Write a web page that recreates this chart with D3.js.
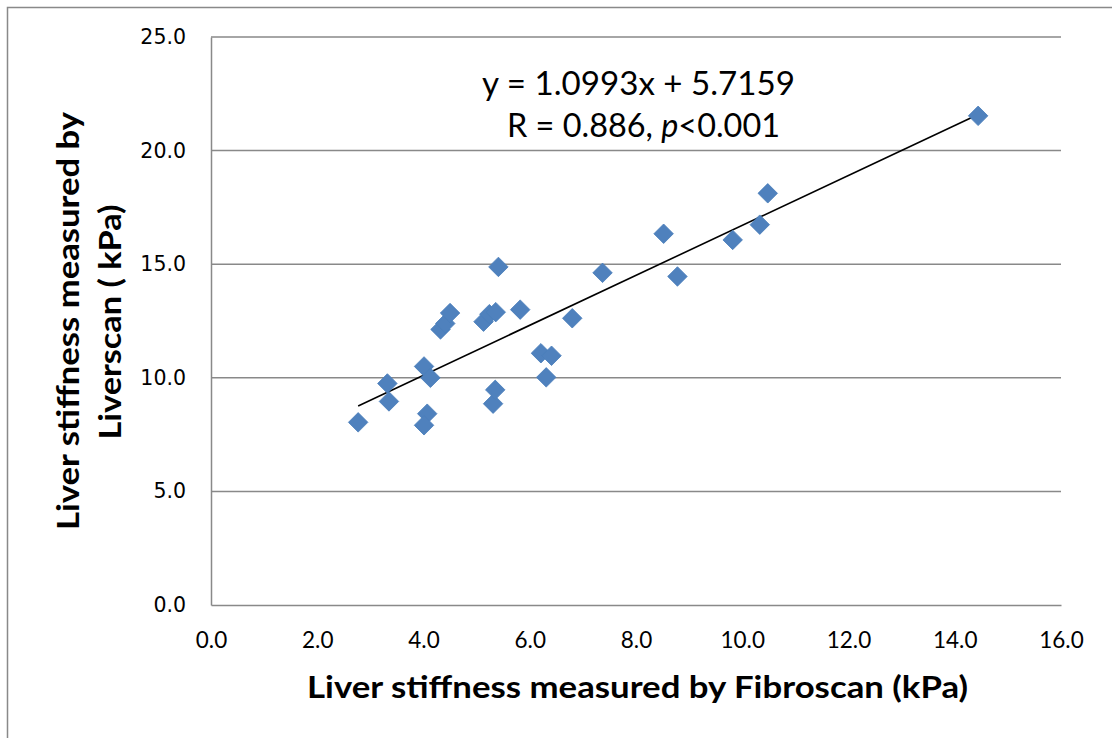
<!DOCTYPE html>
<html>
<head>
<meta charset="utf-8">
<script src="https://cdn.jsdelivr.net/npm/d3@7"></script>
<style>
  html, body { margin: 0; padding: 0; background: #fff; }
  svg { display: block; }
</style>
</head>
<body>
<svg id="chart" width="1112" height="738"></svg>
<script>
// ---- data ----
const fibroscan = [2.77, 3.32, 3.35, 4.01, 4.13, 4.07, 4.01, 4.32, 4.41, 4.50, 5.13, 5.24, 5.36, 5.41, 5.82, 5.31, 5.35, 6.21, 6.41, 6.31, 6.80, 7.37, 8.52, 8.78, 9.82, 10.33, 10.48, 14.44];
const liverscan = [8.04, 9.75, 8.96, 10.50, 10.00, 8.42, 7.91, 12.13, 12.39, 12.85, 12.47, 12.80, 12.89, 14.88, 13.00, 8.86, 9.47, 11.08, 10.97, 10.02, 12.62, 14.62, 16.34, 14.46, 16.07, 16.74, 18.12, 21.53];
const xTicks = [0, 2, 4, 6, 8, 10, 12, 14, 16];
const yTicks = [0, 5, 10, 15, 20, 25];
const slope = 1.0993, intercept = 5.7159;
const eqLine = "y = 1.0993x + 5.7159";
const xTitle = "Liver stiffness measured by Fibroscan (kPa)";
const yTitle1 = "Liver stiffness measured by";
const yTitle2 = "Liverscan ( kPa)";

const svg = d3.select("#chart");
const L = 211, R = 1061, T = 37, B = 605;
const x = d3.scaleLinear().domain([0, 16]).range([L, R]);
const y = d3.scaleLinear().domain([0, 25]).range([B, T]);
const human = "Lato, 'Open Sans', 'Liberation Sans', sans-serif";

// outer border
svg.append("rect").attr("x", 7.5).attr("y", 7.5).attr("width", 1120).attr("height", 750)
  .attr("fill", "none").attr("stroke", "#898989").attr("stroke-width", 1.5);

// gridlines
svg.append("g").selectAll("line").data(yTicks.filter(d => d > 0)).join("line")
  .attr("x1", L).attr("x2", R).attr("y1", d => y(d)).attr("y2", d => y(d))
  .attr("stroke", "#898989").attr("stroke-width", 1.5);

// axes
const yAxis = d3.axisLeft(y).tickValues(yTicks).tickFormat(d3.format(".1f")).tickSize(0).tickPadding(25);
const gy = svg.append("g").attr("transform", `translate(${L},0)`).call(yAxis);
gy.select(".domain").attr("stroke", "#898989").attr("stroke-width", 1.5);
gy.selectAll("text").attr("font-family", "DejaVu Sans").attr("font-size", 20.5).attr("fill", "#000");

const xAxis = d3.axisBottom(x).tickValues(xTicks).tickFormat(d3.format(".1f")).tickSize(0).tickPadding(27);
const gx = svg.append("g").attr("transform", `translate(0,${B})`).call(xAxis);
gx.select(".domain").attr("stroke", "#898989").attr("stroke-width", 1.5);
gx.selectAll("text").attr("font-family", human).attr("font-size", 22.5).attr("fill", "#000");

// trendline
const xmin = d3.min(fibroscan), xmax = d3.max(fibroscan);
svg.append("line")
  .attr("x1", x(xmin)).attr("y1", y(slope * xmin + intercept))
  .attr("x2", x(xmax)).attr("y2", y(slope * xmax + intercept))
  .attr("stroke", "#000").attr("stroke-width", 1.6);

// points
const diamond = d3.symbol().type(d3.symbolSquare).size(190);
svg.append("g").selectAll("path").data(fibroscan.map((v, i) => [v, liverscan[i]])).join("path")
  .attr("d", diamond)
  .attr("transform", d => `translate(${x(d[0])},${y(d[1])}) rotate(45)`)
  .attr("fill", "#4F81BD").attr("stroke", "#4A7EBB").attr("stroke-width", 0.8);

// annotation
svg.append("text").attr("x", 638.5).attr("y", 95).attr("text-anchor", "middle")
  .attr("font-family", human).attr("font-size", 32)
  .attr("textLength", 313).attr("lengthAdjust", "spacingAndGlyphs").text(eqLine);
const t2 = svg.append("text").attr("x", 643.5).attr("y", 137).attr("text-anchor", "middle")
  .attr("font-family", human).attr("font-size", 32)
  .attr("textLength", 273).attr("lengthAdjust", "spacingAndGlyphs");
t2.append("tspan").text("R = 0.886, ");
t2.append("tspan").attr("font-style", "italic").text("p");
t2.append("tspan").text("<0.001");

// axis titles
svg.append("text").attr("x", 637.5).attr("y", 698).attr("text-anchor", "middle")
  .attr("font-family", human).attr("font-weight", "bold").attr("font-size", 30)
  .attr("textLength", 661).attr("lengthAdjust", "spacingAndGlyphs").text(xTitle);
svg.append("text").attr("transform", "translate(79,321) rotate(-90)").attr("text-anchor", "middle")
  .attr("font-family", human).attr("font-weight", "bold").attr("font-size", 30)
  .attr("textLength", 418).attr("lengthAdjust", "spacingAndGlyphs").text(yTitle1);
svg.append("text").attr("transform", "translate(121,322) rotate(-90)").attr("text-anchor", "middle")
  .attr("font-family", human).attr("font-weight", "bold").attr("font-size", 30)
  .attr("textLength", 235).attr("lengthAdjust", "spacingAndGlyphs").text(yTitle2);
</script>
</body>
</html>
